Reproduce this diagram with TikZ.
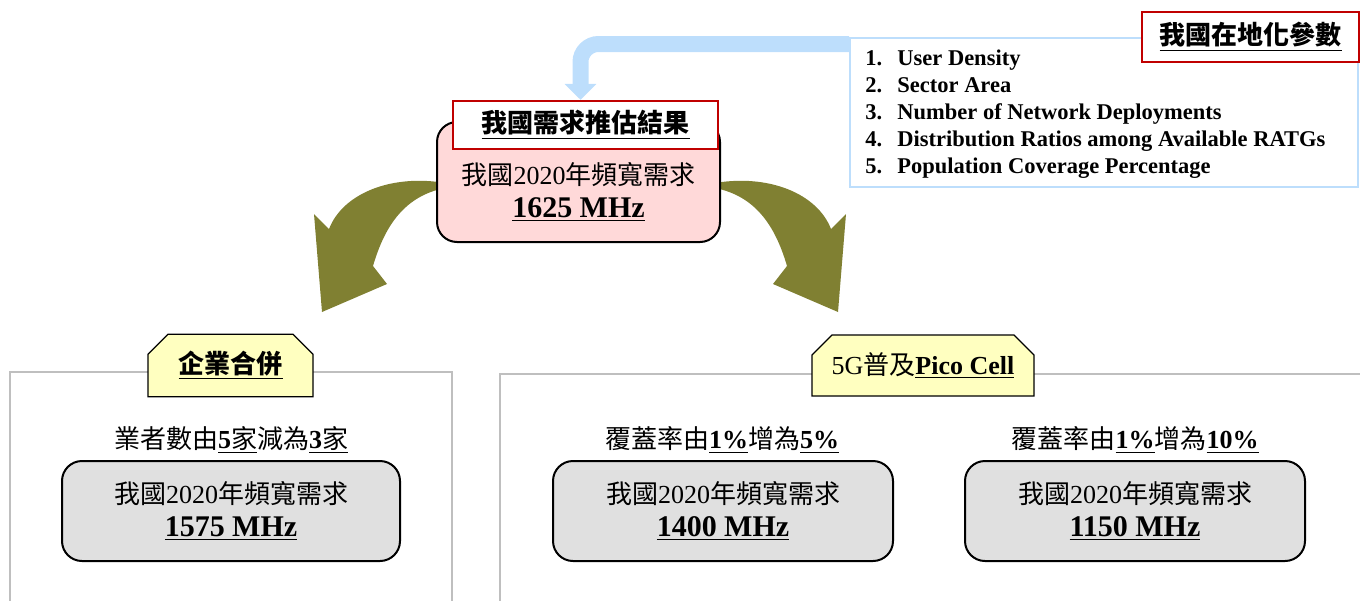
\documentclass[tikz,border=0pt]{standalone}
\usepackage{fontspec}
\setmainfont{Liberation Serif}
\newfontfamily\cjk{Noto Sans CJK TC}
\usetikzlibrary{shapes.misc,arrows.meta}
\definecolor{pinkfill}{RGB}{255,217,217}
\definecolor{grayfill}{RGB}{224,224,224}
\definecolor{tabfill}{RGB}{255,255,192}
\definecolor{framered}{RGB}{192,0,0}
\definecolor{lightblue}{RGB}{189,222,252}
\definecolor{arrowolive}{RGB}{128,128,50}
\definecolor{groupgray}{RGB}{191,191,191}
\newcommand\zh[1]{{\cjk #1}}
\newcommand\itm[2]{\makebox[16pt][l]{#1.}#2}
\tikzset{
    demandbox/.style={draw, line width=1pt, rounded corners=10pt, minimum height=50pt,
            align=center, font=\fontsize{13}{16.5}\selectfont},
    redtitle/.style={draw=framered, line width=1.2pt, fill=white, minimum height=24pt,
            font=\fontsize{13}{15}\selectfont\bfseries},
    grouptab/.style={chamfered rectangle, chamfered rectangle corners={north west,north east},
            chamfered rectangle sep=5pt, draw, line width=0.6pt, fill=tabfill,
            minimum height=30.5pt, font=\fontsize{13}{15}\selectfont},
    groupframe/.style={draw=groupgray, line width=1pt},
    olivearrow/.style={fill=arrowolive},
    bluearrow/.style={draw=lightblue, line width=8pt, rounded corners=9pt,
            -{Triangle[width=15.5pt,length=8pt]}},
    caption/.style={font=\fontsize{13}{15}\selectfont},
}

\begin{document}
\begin{tikzpicture}[x=0.5pt, y=-0.5pt]
        \useasboundingbox (0,0) rectangle (1360,600);
        %draw the two group frames
        \draw[groupframe] (10,372) rectangle (452,612);
        \draw[groupframe] (500,374) rectangle (1372,612);
        %draw the olive arrows, left one and its mirror
        \foreach \s/\c in {1/0, -1/1160}
        {
            \begin{scope}[shift={(\c,0)}, xscale=\s]
                \fill[olivearrow] (445,183) .. controls (392,174) and (343,193) .. (329,229)
                    -- (314,214) -- (322,312) -- (387,284) -- (373,266)
                    .. controls (385,225) and (405,196) .. (445,188) -- cycle;
            \end{scope}
        }
        %draw the national result box
        \node[demandbox, fill=pinkfill, minimum width=141.5pt, minimum height=60pt] (res) at (578.5,182) {};
        \node[font=\fontsize{13}{16.5}\selectfont, align=center] (restext) at ([yshift=-5pt]res.center)
            {\zh{我國}2020\zh{年頻寬需求}\\{\fontsize{15}{16.5}\selectfont\bfseries\underline{1625 MHz}}};
        \node[redtitle, minimum width=132.5pt] (restitle) at (585.5,125) {\underline{\zh{我國需求推估結果}}};
        %draw the local parameter list
        \node[draw=lightblue, line width=1pt, fill=white, minimum width=254pt, minimum height=74.5pt] (lst) at (1104,112.5) {};
        \node[anchor=west, inner sep=0pt, align=left, font=\fontsize{11.25}{13.5}\selectfont\bfseries] (items) at (865,114)
            {\itm{1}{User Density}\\\itm{2}{Sector Area}\\\itm{3}{Number of Network Deployments}\\
             \itm{4}{Distribution Ratios among Available RATGs}\\\itm{5}{Population Coverage Percentage}};
        \node[redtitle, minimum width=108.5pt, minimum height=25pt] (loctitle) at (1250.5,37) {\underline{\zh{我國在地化參數}}};
        %draw the blue arrow from the list to the result
        \draw[bluearrow] ([yshift=-3.5pt]lst.north west) -| ([xshift=-2.5pt]restitle.north);
        %draw the group tabs
        \node[grouptab, minimum width=82.5pt] (mergetab) at (230.5,365.5) {\bfseries\underline{\zh{企業合併}}};
        \node[grouptab, minimum width=111pt] (picotab) at (923,365.5) {5G\zh{普及}\textbf{\underline{Pico Cell}}};
        %draw the captions
        \node[caption] (mergecap) at (231,440) {\zh{業者數由}\underline{\textbf{5}\zh{家}}\zh{減為}\underline{\textbf{3}\zh{家}}};
        \node[caption] (picocapa) at (722,440) {\zh{覆蓋率由}\underline{\textbf{1\%}}\zh{增為}\underline{\textbf{5\%}}};
        \node[caption] (picocapb) at (1135,440) {\zh{覆蓋率由}\underline{\textbf{1\%}}\zh{增為}\underline{\textbf{10\%}}};
        %draw the three demand boxes
        \node[demandbox, fill=grayfill, minimum width=169pt] (merge) at (231,511)
            {\zh{我國}2020\zh{年頻寬需求}\\{\fontsize{15}{16.5}\selectfont\bfseries\underline{1575 MHz}}};
        \node[demandbox, fill=grayfill, minimum width=170pt] (picoa) at (723,511)
            {\zh{我國}2020\zh{年頻寬需求}\\{\fontsize{15}{16.5}\selectfont\bfseries\underline{1400 MHz}}};
        \node[demandbox, fill=grayfill, minimum width=170pt] (picob) at (1135,511)
            {\zh{我國}2020\zh{年頻寬需求}\\{\fontsize{15}{16.5}\selectfont\bfseries\underline{1150 MHz}}};
\end{tikzpicture}
\end{document}
